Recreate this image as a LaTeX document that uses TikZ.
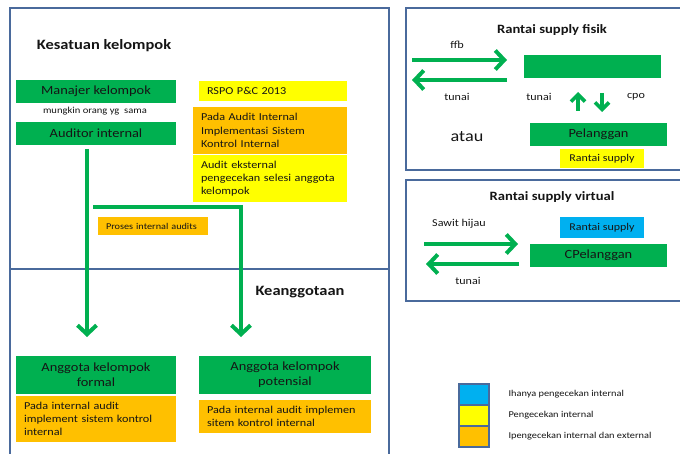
\documentclass[tikz,border=0pt]{standalone}
\usepackage{fontspec}
\setmainfont[FakeStretch=1.15]{Carlito}
\usetikzlibrary{arrows.meta}

\definecolor{fgreen}{HTML}{00B050}
\definecolor{forange}{HTML}{FFC000}
\definecolor{fyellow}{HTML}{FFFF00}
\definecolor{fblue}{HTML}{00B0F0}
\definecolor{framec}{HTML}{4A6A9C}
\definecolor{ink}{HTML}{151515}

\tikzset{
  frame/.style={draw=framec, line width=1.6pt},
  boxbase/.style={rectangle, inner sep=0pt, text=ink},
  gbox/.style={boxbase, fill=fgreen, font=\fontsize{12.5}{15}\selectfont, align=center},
  lbox/.style={boxbase, align=left, inner xsep=8pt, font=\fontsize{10.6}{13.2}\selectfont},
  ybox/.style={lbox, fill=fyellow},
  obox/.style={lbox, fill=forange},
  small/.style={text=ink, font=\fontsize{10.5}{12}\selectfont},
  title/.style={text=ink, font=\bfseries\fontsize{14.3}{16}\selectfont},
  flow/.style={draw=fgreen, line width=4pt, -{Straight Barb[length=9pt,width=19pt]}},
  flowshort/.style={draw=fgreen, line width=3.6pt, -{Straight Barb[length=7pt,width=14pt]}},
  flowplain/.style={draw=fgreen, line width=4pt},
  legend/.style={draw=framec, line width=1.4pt},
  legtext/.style={text=ink, anchor=west, font=\fontsize{9}{10}\selectfont},
}

\begin{document}
\begin{tikzpicture}[x=1pt, y=-1pt]
\useasboundingbox (0,0) rectangle (680,454);
\begin{scope}
\clip (0,0) rectangle (680,454);

% frames
\draw[frame] (10,8) rectangle (389,269);
\draw[frame] (10,269) rectangle (389,480);
\draw[frame] (406,8) rectangle (700,170);
\draw[frame] (406,180) rectangle (700,301);

% group unit
\node[title] (kesatuan) at (104,46) {Kesatuan kelompok};
\node[gbox, minimum width=160pt, minimum height=23pt] (manajer) at (96,91.5) {Manajer kelompok};
\node[text=ink, font=\fontsize{9.2}{10}\selectfont] (sama) at (95,111) {mungkin orang yg\ \ sama};
\node[gbox, minimum width=160pt, minimum height=23pt] (auditor) at (96,133.5) {Auditor internal};

\node[ybox, text width=132pt, minimum height=20pt] (rspo) at (273,91) {RSPO P\&C 2013};
\node[obox, text width=138pt, minimum height=47pt] (pada) at (270,130.5)
  {Pada Audit Internal\\Implementasi Sistem\\Kontrol Internal};
\node[ybox, text width=138pt, minimum height=47pt] (ekst) at (270,178.5)
  {Audit eksternal\\pengecekan selesi anggota\\kelompok};

\node[obox, inner xsep=8pt, text width=94pt, minimum height=18pt, font=\fontsize{8.9}{10}\selectfont] (proses) at (153,226) {Proses internal audits};

% membership
\node[title] (keang) at (300,292) {Keanggotaan};
\node[gbox, minimum width=160pt, minimum height=38pt] (formal) at (96,375) {Anggota kelompok\\formal};
\node[obox, text width=144pt, minimum height=46pt] (formalo) at (96,419)
  {Pada internal audit\\implement sistem kontrol\\internal};
\node[gbox, minimum width=172pt, minimum height=38pt] (potensial) at (285,375) {Anggota kelompok\\potensial};
\node[obox, text width=156pt, minimum height=33pt] (potensialo) at (285,416.5)
  {Pada internal audit implemen\\sitem kontrol internal};

% internal audit flows
\coordinate (l0) at (87,149);
\coordinate (l1) at (87,337);
\coordinate (r0) at (93,207);
\coordinate (rc) at (241,207);
\coordinate (r1) at (241,337);
\draw[flow] (l0) -- (l1);
\draw[flowplain] (r0) -- (rc);
\draw[flow] ([yshift=2pt]rc) -- (r1);

% physical supply chain
\node[text=ink, font=\bfseries\fontsize{12.7}{14}\selectfont] (fisik) at (552,30) {Rantai supply fisik};
\node[small] (ffb) at (457,45) {ffb};
\node[boxbase, fill=fgreen, minimum width=137pt, minimum height=23pt] (pabrik) at (592.5,66.5) {};
\coordinate (fa0) at (412,60);
\coordinate (fa1) at (507,60);
\coordinate (fb0) at (507,80);
\coordinate (fb1) at (412,80);
\draw[flow] (fa0) -- (fa1);
\draw[flow] (fb0) -- (fb1);
\node[small] (tunai1) at (457,97) {tunai};
\node[small] (tunai2) at (539,97) {tunai};
\node[small] (cpo) at (636,97) {cpo};
\coordinate (ua0) at (578,111);
\coordinate (ua1) at (578,92);
\coordinate (da0) at (602,93);
\coordinate (da1) at (602,112);
\draw[flowshort] (ua0) -- (ua1);
\draw[flowshort] (da0) -- (da1);
\node[text=ink, font=\fontsize{15.8}{18}\selectfont] (atau) at (467,137) {atau};
\node[gbox, minimum width=137pt, minimum height=23pt] (pelanggan) at (598.5,134.5) {Pelanggan};
\node[boxbase, fill=fyellow, minimum width=84pt, minimum height=19pt, font=\fontsize{10.4}{11}\selectfont] (rsy) at (602,158.5) {Rantai supply};

% virtual supply chain
\node[text=ink, font=\bfseries\fontsize{12.7}{14}\selectfont] (virtual) at (552,197) {Rantai supply virtual};
\node[small] (sawit) at (459,224) {Sawit hijau};
\coordinate (va0) at (424,244);
\coordinate (va1) at (518,244);
\coordinate (vb0) at (519,264);
\coordinate (vb1) at (426,264);
\draw[flow] (va0) -- (va1);
\draw[flow] (vb0) -- (vb1);
\node[small] (tunai3) at (468,281) {tunai};
\node[boxbase, fill=fblue, minimum width=84pt, minimum height=21pt, font=\fontsize{10.4}{11}\selectfont] (rsb) at (602,227.5) {Rantai supply};
\node[gbox, minimum width=137pt, minimum height=23pt] (cpel) at (598.5,255.5) {CPelanggan};

% legend
\draw[legend, fill=fblue] (459,384) rectangle (489,405);
\draw[legend, fill=fyellow] (459,405) rectangle (489,426);
\draw[legend, fill=forange] (459,426) rectangle (489,447);
\node[legtext] (lg1) at (505,394) {Ihanya pengecekan internal};
\node[legtext] (lg2) at (505,415) {Pengecekan internal};
\node[legtext] (lg3) at (505,436) {Ipengecekan internal dan external};
\end{scope}
\end{tikzpicture}
\end{document}
